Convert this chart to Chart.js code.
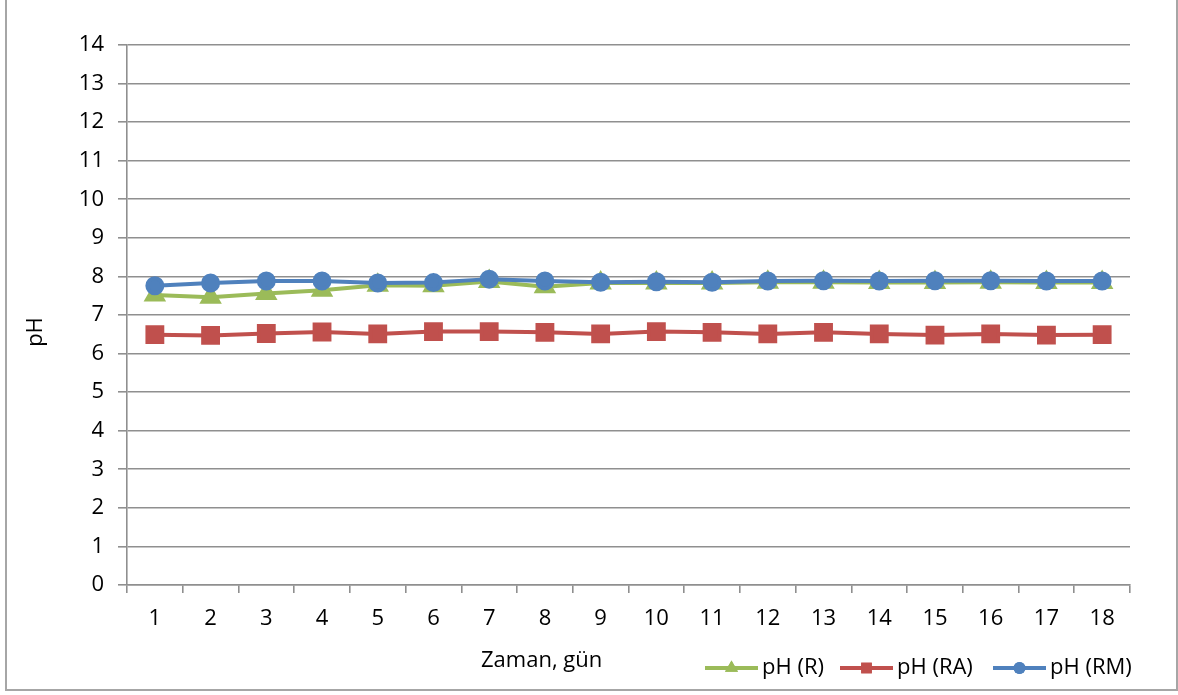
<!DOCTYPE html>
<html>
<head>
<meta charset="utf-8">
<script src="https://cdn.jsdelivr.net/npm/chart.js@4/dist/chart.umd.min.js"></script>
<style>
  html, body { margin: 0; padding: 0; background: #ffffff; }
  #wrap { position: relative; width: 1178px; height: 695px; }
</style>
</head>
<body>
<div id="wrap"><canvas id="ph"></canvas></div>
<script>
// Days of the experiment
const days = ['1','2','3','4','5','6','7','8','9','10','11','12','13','14','15','16','17','18'];
// pH readings per reactor
const phR  = [7.52, 7.46, 7.56, 7.64, 7.77, 7.76, 7.87, 7.73, 7.83, 7.83, 7.83, 7.85, 7.85, 7.84, 7.84, 7.85, 7.84, 7.84];
const phRA = [6.49, 6.47, 6.52, 6.56, 6.51, 6.57, 6.57, 6.55, 6.51, 6.57, 6.55, 6.51, 6.55, 6.51, 6.48, 6.51, 6.48, 6.49];
const phRM = [7.76, 7.83, 7.88, 7.88, 7.83, 7.84, 7.93, 7.88, 7.85, 7.86, 7.85, 7.88, 7.89, 7.88, 7.89, 7.89, 7.88, 7.88];
// Y axis range
const yMin = 0, yMax = 14, yStep = 1;

const seriesNames = ['pH (R)', 'pH (RA)', 'pH (RM)'];
const colR = '#9BBB59', colRA = '#C0504D', colRM = '#4F81BD';
const FONT = '"Open Sans", "DejaVu Sans", sans-serif';
const FSIZE = 22;
const gridCol = '#8f8f8f';

// Frame, axis titles and line-with-marker legend drawn around the plot
const decorations = {
  id: 'decorations',
  beforeDraw(chart) {
    const ctx = chart.ctx;
    ctx.save();
    ctx.fillStyle = '#ffffff';
    ctx.fillRect(0, 0, chart.width, chart.height);
    ctx.restore();
  },
  afterDraw(chart) {
    const ctx = chart.ctx;
    ctx.save();
    // outer frame
    ctx.strokeStyle = '#a6a6a6';
    ctx.lineWidth = 2;
    ctx.strokeRect(6, -2, 1171, 692);

    ctx.fillStyle = '#000000';
    ctx.font = FSIZE + 'px ' + FONT;
    ctx.textBaseline = 'middle';

    // y axis title
    ctx.save();
    ctx.translate(36, 332);
    ctx.rotate(-Math.PI / 2);
    ctx.textAlign = 'center';
    ctx.fillText('pH', 0, 0);
    ctx.restore();

    // x axis title
    ctx.textAlign = 'left';
    ctx.fillText('Zaman, gün', 481, 661);

    // legend
    const starts = [705, 840, 993];
    const ly = 668;
    chart.data.datasets.forEach((ds, k) => {
      const x0 = starts[k], x1 = x0 + 53;
      ctx.strokeStyle = ds.borderColor;
      ctx.lineWidth = 4;
      ctx.beginPath();
      ctx.moveTo(x0, ly);
      ctx.lineTo(x1, ly);
      ctx.stroke();
      ctx.fillStyle = ds.borderColor;
      const r = ds.pointStyle === 'rect' ? 7.5 : (ds.pointStyle === 'triangle' ? 7.5 : 6);
      Chart.helpers.drawPoint(ctx, { pointStyle: ds.pointStyle, rotation: 0, borderWidth: 0, radius: r }, (x0 + x1) / 2, ly);
      ctx.fill();
      ctx.fillStyle = '#000000';
      ctx.font = FSIZE + 'px ' + FONT;
      ctx.textAlign = 'left';
      ctx.textBaseline = 'middle';
      ctx.fillText(ds.label, x1 + 4, ly);
    });
    ctx.restore();
  }
};

const chart = new Chart(document.getElementById('ph'), {
  type: 'line',
  data: {
    labels: days,
    datasets: [
      { label: seriesNames[0], data: phR, borderColor: colR, backgroundColor: colR,
        pointStyle: 'triangle', pointRadius: 9, pointHoverRadius: 9, borderWidth: 4, order: 2 },
      { label: seriesNames[1], data: phRA, borderColor: colRA, backgroundColor: colRA,
        pointStyle: 'rect', pointRadius: 10.5, pointHoverRadius: 10.5, borderWidth: 4, order: 1 },
      { label: seriesNames[2], data: phRM, borderColor: colRM, backgroundColor: colRM,
        pointStyle: 'circle', pointRadius: 7.5, pointHoverRadius: 7.5, borderWidth: 4, order: 0 }
    ]
  },
  options: {
    responsive: true,
    maintainAspectRatio: false,
    animation: false,
    devicePixelRatio: 1,
    layout: { padding: { left: 0, top: 45, right: 48, bottom: 0 } },
    elements: { line: { tension: 0 }, point: { borderWidth: 0 } },
    plugins: {
      legend: { display: false },
      tooltip: { enabled: false }
    },
    scales: {
      x: {
        offset: true,
        grid: {
          offset: true,
          drawOnChartArea: false,
          drawTicks: true,
          tickLength: 8,
          color: gridCol,
          lineWidth: 1.6
        },
        border: { color: gridCol, width: 1.6 },
        ticks: {
          color: '#000000',
          font: { family: FONT, size: FSIZE },
          padding: 13,
          maxRotation: 0,
          autoSkip: false
        },
        afterFit(scale) { scale.height = 110; }
      },
      y: {
        min: yMin,
        max: yMax,
        grid: {
          color: gridCol,
          lineWidth: 1.6,
          tickLength: 9
        },
        border: { color: gridCol, width: 1.6 },
        ticks: {
          stepSize: yStep,
          color: '#000000',
          font: { family: FONT, size: FSIZE },
          padding: 14
        },
        afterFit(scale) { scale.width = 127; }
      }
    }
  },
  plugins: [decorations]
});
</script>
</body>
</html>
